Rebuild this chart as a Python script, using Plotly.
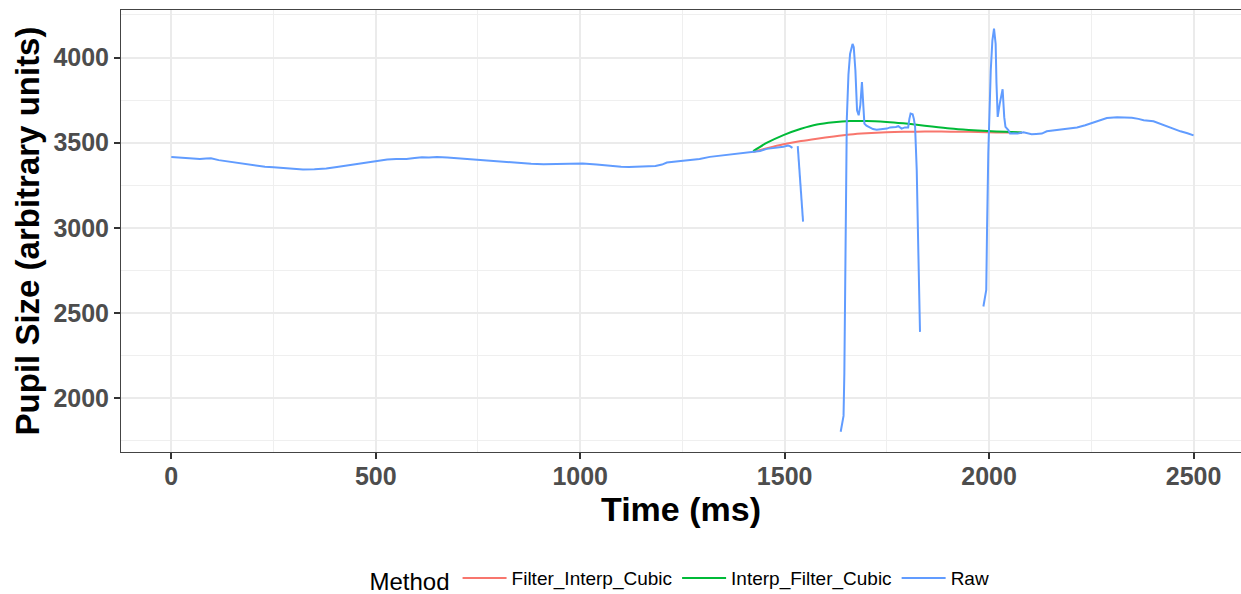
import plotly.graph_objects as go

# ---- data ----
raw_time = [0, 20, 41, 55, 70, 85, 97, 116, 140, 163, 195, 229, 250, 266, 290, 322, 350, 379, 405, 435,
            460, 482, 505, 528, 550, 575, 595, 613, 630, 650, 675, 697, 720, 744, 770, 791, 820, 847, 880,
            910, 931, 960, 985, 1006, 1040, 1081, 1100, 1119, 1150, 1184, 1200, 1212, 1240, 1278, 1292,
            1317, 1341, 1366, 1395, 1419, 1440, 1456, 1475, 1497, 1508, 1513, 1519,
            1525,
            1532, 1538, 1545,
            1590,
            1637, 1644, 1646, 1648, 1651, 1652, 1656, 1660, 1666, 1669, 1673, 1677, 1681, 1685, 1689, 1692,
            1695, 1700, 1708, 1716, 1725, 1733, 1741, 1750, 1758, 1766, 1772, 1778, 1786, 1794, 1802, 1805,
            1808, 1813, 1816, 1819, 1823, 1827, 1831,
            1900,
            1986, 1993, 1995, 1998, 2004, 2008, 2012, 2016, 2018, 2021, 2026, 2033, 2037, 2040, 2047, 2051,
            2060, 2070, 2084, 2095, 2104, 2115, 2129, 2141, 2165, 2190, 2215, 2235, 2255, 2270, 2288, 2313,
            2330, 2349, 2365, 2378, 2402, 2420, 2435, 2450, 2468, 2485, 2500]
raw_pupil = [3417, 3414, 3413, 3411, 3405, 3408, 3409, 3398, 3390, 3378, 3368, 3359, 3356, 3353, 3348, 3343,
             3345, 3349, 3358, 3368, 3377, 3384, 3394, 3402, 3404, 3404, 3410, 3415, 3413, 3417, 3413, 3409,
             3404, 3398, 3394, 3390, 3385, 3380, 3377, 3374, 3374, 3376, 3377, 3378, 3372, 3361, 3359, 3357,
             3359, 3364, 3372, 3384, 3392, 3402, 3405, 3417, 3424, 3431, 3439, 3446, 3452, 3464, 3468, 3476,
             3484, 3480, 3470,
             None,
             3480, 3300, 3037,
             None,
             1804, 1897, 2150, 2854, 3300, 3640, 3900, 4022, 4080, 4060, 3924, 3690, 3661, 3720, 3856, 3760,
             3612, 3600, 3589, 3580, 3577, 3578, 3583, 3583, 3590, 3589, 3592, 3597, 3583, 3590, 3589, 3640,
             3671, 3667, 3640, 3593, 3339, 2852, 2390,
             None,
             2539, 2636, 3000, 3437, 3924, 4100, 4170, 4080, 3850, 3652, 3730, 3814, 3650, 3593, 3574, 3554,
             3556, 3554, 3561, 3555, 3550, 3552, 3554, 3567, 3575, 3583, 3589, 3603, 3618, 3630, 3645, 3649,
             3648, 3647, 3640, 3632, 3626, 3610, 3593, 3582, 3567, 3556, 3543]

interp_time = [1423, 1457, 1497, 1540, 1579, 1620, 1660, 1700, 1749, 1790, 1823, 1860, 1905, 1950, 1995,
               2040, 2080]
filter_interp_cubic = [3446, 3468, 3491, 3510, 3524, 3537, 3548, 3555, 3561, 3564, 3565, 3566, 3565, 3564,
                       3561, 3560, 3559]
interp_filter_cubic = [3451, 3500, 3545, 3582, 3607, 3620, 3627, 3628, 3622, 3614, 3606, 3595, 3583, 3575,
                       3569, 3564, 3560]

method_names = ["Filter_Interp_Cubic", "Interp_Filter_Cubic", "Raw"]
method_colors = ["#F8766D", "#00BA38", "#619CFF"]

x_ticks = [0, 500, 1000, 1500, 2000, 2500]
y_ticks = [2000, 2500, 3000, 3500, 4000]

FONT = "Liberation Sans, Arial, sans-serif"

fig = go.Figure()
fig.add_trace(go.Scatter(x=interp_time, y=filter_interp_cubic, mode="lines", name=method_names[0],
                         line=dict(color=method_colors[0], width=2, shape="spline", smoothing=0.8)))
fig.add_trace(go.Scatter(x=interp_time, y=interp_filter_cubic, mode="lines", name=method_names[1],
                         line=dict(color=method_colors[1], width=2, shape="spline", smoothing=0.8)))
fig.add_trace(go.Scatter(x=raw_time, y=raw_pupil, mode="lines", name=method_names[2], connectgaps=False,
                         line=dict(color=method_colors[2], width=2)))

axis_common = dict(
    showgrid=True, gridcolor="#EBEBEB", gridwidth=2,
    minor=dict(showgrid=True, gridcolor="#EFEFEF", gridwidth=1, ticks=""),
    zeroline=False, showline=True, linecolor="#444444", linewidth=1, mirror=True,
    ticks="outside", ticklen=6, tickwidth=1.5, tickcolor="#333333",
    tickfont=dict(family=FONT, size=25, color="#4D4D4D", weight="bold"),
)

fig.update_xaxes(range=[-123, 2616], tickvals=x_ticks, ticktext=[str(v) for v in x_ticks],
                 minor_tickvals=[250, 750, 1250, 1750, 2250], ticklabelstandoff=-4,
                 title=dict(text="Time (ms)", font=dict(family=FONT, size=34, color="black", weight="bold"),
                            standoff=0),
                 **axis_common)
fig.update_yaxes(range=[1685, 4279], tickvals=y_ticks, ticktext=[str(v) for v in y_ticks],
                 minor_tickvals=[1750, 2250, 2750, 3250, 3750, 4250],
                 title=dict(text="Pupil Size (arbitrary units)",
                            font=dict(family=FONT, size=33, color="black", weight="bold"), standoff=3),
                 **axis_common)

fig.update_layout(
    width=1241, height=594,
    margin=dict(l=121, r=0, t=10, b=142, autoexpand=False),
    plot_bgcolor="white", paper_bgcolor="white",
    font=dict(family=FONT),
    legend=dict(orientation="h", x=0.5, xanchor="center", y=-0.29, yanchor="middle",
                title=dict(text="Method", side="left", font=dict(family=FONT, size=24, color="black")),
                font=dict(family=FONT, size=19, color="black"),
                itemwidth=44, bgcolor="rgba(0,0,0,0)"),
    showlegend=True,
)

fig.write_html("out.html", config={"displayModeBar": False},
               post_script="document.body.style.margin='0';document.body.style.overflow='hidden';")
